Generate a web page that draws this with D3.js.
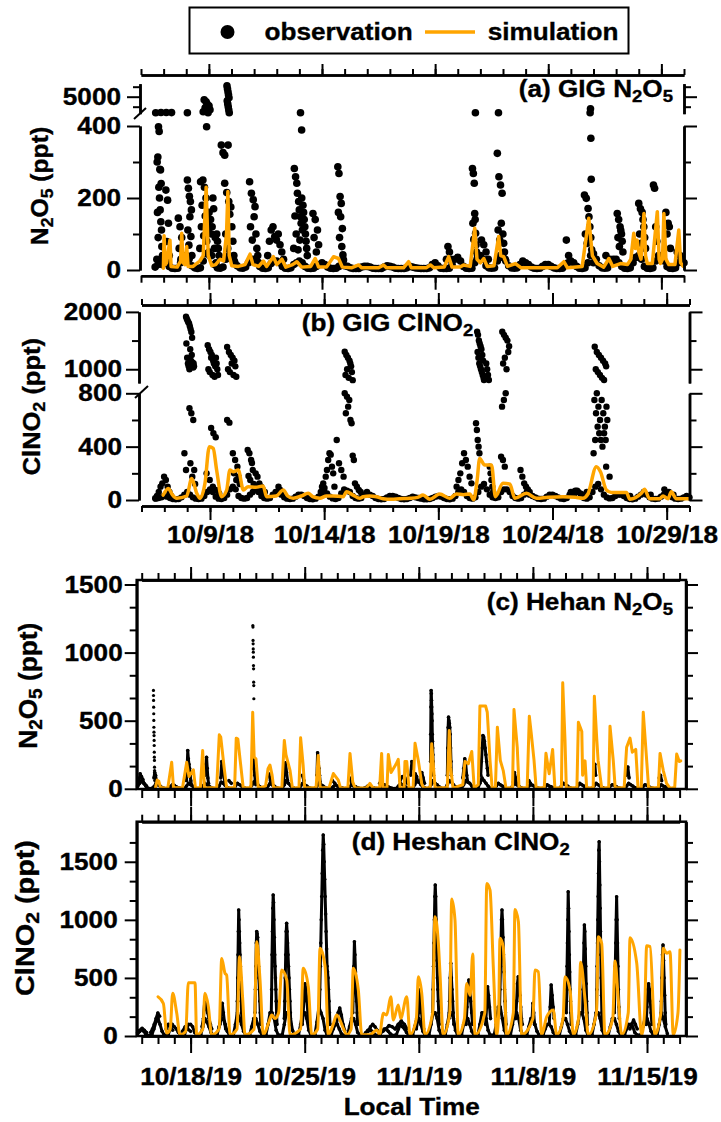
<!DOCTYPE html>
<html>
<head>
<meta charset="utf-8">
<script src="https://cdn.jsdelivr.net/npm/d3@7/dist/d3.min.js"></script>
<style>
  body { margin: 0; background: #fff; }
  svg text { font-family: "Liberation Sans", Arial, sans-serif; font-weight: bold; white-space: pre;
             stroke: #000; stroke-width: 0.35px; }
</style>
</head>
<body>
<svg id="chart" width="721" height="1122"></svg>
<script>
// ---------- data ----------
// GIG 2018 (a, b): times are day-of-October 2018 (6.5 = 10/6 12:00)
// Heshan 2019 (c, d): times are days counted from 30 Sep 2019 (32 = 11/1)

const gigTickLabels = ['10/9/18', '10/14/18', '10/19/18', '10/24/18', '10/29/18'];
const heshanTickLabels = ['10/18/19', '10/25/19', '11/1/19', '11/8/19', '11/15/19'];

// observation bursts: [start, end, values in ppt (in time order)]
const gigN2O5Obs = [
  [6.7, 6.95, [30, 300, 160, 314, 90, 398, 230, 385, 200, 280, 167, 278, 134, 240, 111, 65, 15, 40]],
  [6.65, 7.35, [3400, 3420, 3420, 3410]],
  [7.1, 7.25, [222, 79, 194, 130, 40]],
  [7.65, 7.8, [144, 60, 120, 30, 90]],
  [8.05, 8.25, [250, 111, 227, 69, 205, 148, 190, 93, 167, 40]],
  [8.05, 8.05, [3400]],
  [8.6, 9.45, [60, 245, 120, 180, 250, 95, 230, 150, 200, 80, 130, 110, 160, 40, 140, 100, 120, 200, 170, 60, 90, 20, 100, 80, 60, 40]],
  [8.75, 9.05, [3500, 4700, 3900, 4500, 4300, 3400, 4100, 3700]],
  [8.9, 8.9, [398]],
  [9.55, 9.7, [347, 326, 319]],
  [9.7, 10.15, [241, 100, 215, 60, 190, 155, 175, 120, 80, 40, 20]],
  [9.8, 9.9, [6100, 4600, 5800, 4300, 5500, 4000, 5200, 3700, 4900, 3400]],
  [9.85, 9.85, [347]],
  [10.8, 11.2, [245, 120, 213, 83, 195, 148, 176, 100, 60, 40, 20]],
  [11.6, 12.3, [40, 80, 111, 120, 93, 83, 100, 70, 50, 30]],
  [12.75, 13.35, [60, 282, 150, 259, 100, 241, 213, 56, 190, 167, 83, 148, 130, 200, 111, 180, 160, 140, 120, 100, 80, 60, 40]],
  [13.05, 13.1, [3400, 389]],
  [13.6, 13.85, [157, 90, 140, 50, 111, 70]],
  [14.7, 14.95, [287, 160, 268, 90, 204, 148, 185, 65, 115, 42, 28]],
  [19.5, 19.7, [30, 65, 50, 30]],
  [20.65, 20.85, [282, 130, 268, 85, 241, 157, 140, 102, 70, 50, 30]],
  [20.78, 20.78, [3400]],
  [21.05, 21.35, [83, 70, 50, 30]],
  [21.75, 22.1, [324, 111, 259, 83, 236, 130, 213, 100, 74, 50, 30]],
  [21.8, 21.8, [3400]],
  [24.8, 24.9, [83, 40]],
  [25.6, 26.0, [208, 100, 199, 74, 171, 148, 120, 90, 56, 40, 20]],
  [25.85, 25.9, [3400, 3800, 366, 252]],
  [26.55, 26.9, [40, 30, 20]],
  [27.05, 27.3, [157, 90, 140, 65, 120, 110, 100, 80, 50]],
  [28.0, 28.3, [185, 100, 170, 74, 160, 140, 120, 90, 60]],
  [28.65, 28.8, [236, 227, 120, 80]],
  [29.2, 29.4, [160, 100, 130, 120, 60]],
  [29.7, 29.95, [50, 40, 20]]
];
// 3-hourly background observations from 10/6 15:00
const gigBaseStart = 6.625;
const gigN2O5Base = [
  8, 15, 25,
  30, 25, 10, 5, 4, 5, 20, 35,  40, 30, 12, 6, 4, 6, 25, 45,  50, 40, 15, 6, 5, 8, 30, 40,
  35, 25, 12, 6, 5, 8, 20, 30,  30, 25, 10, 5, 4, 6, 18, 25,  25, 20, 10, 5, 4, 6, 15, 20,
  25, 20, 10, 5, 4, 5, 10, 15,  20, 15, 8, 5, 4, 5, 10, 15,   12, 10, 6, 4, 4, 4, 8, 10,
  10, 8, 5, 4, 4, 4, 8, 12,     10, 8, 5, 4, 4, 4, 6, 10,     8, 6, 5, 4, 4, 4, 6, 15,
  20, 12, 5, 4, 4, 5, 15, 30,   35, 25, 10, 5, 4, 5, 20, 40,  40, 30, 12, 6, 5, 6, 25, 40,
  35, 25, 12, 6, 5, 6, 15, 25,  20, 15, 8, 5, 4, 5, 10, 15,   15, 10, 6, 4, 4, 5, 12, 20,
  25, 20, 10, 5, 4, 6, 20, 40,  45, 30, 12, 6, 5, 6, 20, 30,  30, 20, 10, 5, 4, 6, 20, 35,
  40, 30, 10, 5, 4, 6, 25, 40,  40, 25, 10, 5, 4, 6, 20, 30,
  20
];
const gigN2O5Sim = [
  [6.99, 5], [7.02, 95], [7.07, 15], [7.13, 20], [7.28, 83], [7.33, 10], [7.6, 8], [7.75, 25], [7.80, 102],
  [7.86, 20], [7.95, 15], [8.02, 65], [8.08, 10], [8.3, 10], [8.6, 25], [8.75, 40], [8.88, 230], [8.97, 40],
  [9.13, 12], [9.3, 15], [9.5, 30], [9.65, 25], [9.78, 100], [9.84, 218], [9.9, 40], [10.01, 12], [10.3, 10],
  [10.6, 15], [10.82, 44], [10.95, 15], [11.2, 10], [11.41, 25], [11.55, 10], [11.85, 37], [12.0, 15],
  [12.23, 30], [12.4, 8], [12.7, 15], [12.89, 23], [13.1, 8], [13.5, 10], [13.7, 32], [13.85, 8], [14.2, 8],
  [14.51, 37], [14.73, 32], [14.9, 8], [15.3, 6], [15.62, 14], [15.75, 6], [16.5, 6], [16.72, 14], [16.85, 6],
  [17.6, 6], [17.83, 23], [17.95, 6], [18.6, 6], [18.79, 14], [18.95, 6], [19.4, 8], [19.6, 37], [19.75, 8],
  [20.1, 8], [20.26, 14], [20.55, 10], [20.75, 116], [20.85, 30], [21.0, 20], [21.15, 32], [21.3, 10],
  [21.6, 12], [21.81, 93], [21.9, 40], [22.03, 37], [22.2, 10], [22.55, 18], [22.8, 6], [24.4, 6], [24.69, 23],
  [24.85, 6], [25.5, 10], [25.79, 144], [25.95, 40], [26.16, 18], [26.45, 8], [26.68, 32], [26.85, 10],
  [27.19, 18], [27.5, 15], [27.65, 30], [27.78, 102], [27.85, 60], [27.93, 83], [28.0, 50], [28.1, 30],
  [28.23, 157], [28.3, 40], [28.38, 18], [28.6, 18], [28.82, 162], [28.9, 30], [28.96, 18], [29.05, 30],
  [29.11, 157], [29.2, 30], [29.33, 15], [29.6, 15], [29.77, 111], [29.85, 20], [29.97, 10]
];

const gigClNO2Obs = [
  [6.6, 7.3, [13, 30, 60, 100, 125, 175, 150, 100, 60, 30]],
  [7.88, 7.95, [350, 225]],
  [7.95, 8.3, [1916, 1450, 1880, 1200, 1850, 1100, 1820, 1050, 1800, 1000, 1750, 1350, 1700, 1150, 1650, 1250, 1550, 1120, 1080, 1030, 1100, 1050]],
  [8.1, 8.35, [688, 275, 650, 175, 600, 225, 120]],
  [8.9, 9.35, [1420, 1000, 1350, 950, 1300, 1200, 1250, 900, 1150, 1100, 870, 1050, 1200, 1100, 1000, 900]],
  [9.05, 9.25, [540, 500, 470]],
  [8.85, 9.4, [200, 150, 100, 75, 50]],
  [9.75, 10.15, [1390, 1000, 1300, 950, 1250, 1100, 1200, 900, 1150, 1050, 870]],
  [9.75, 9.85, [600, 580]],
  [10.0, 10.3, [350, 200, 300, 150, 250, 175, 120]],
  [10.65, 10.95, [375, 180, 350, 150, 300, 277, 225, 120, 100]],
  [11.0, 11.4, [200, 175, 125, 100, 75, 60]],
  [12.0, 12.15, [100, 75, 50]],
  [13.85, 14.45, [60, 100, 125, 90, 175, 225, 300, 350, 340, 250, 200, 100]],
  [14.55, 14.85, [450, 275, 225, 175]],
  [14.9, 15.25, [1305, 900, 1250, 1000, 1200, 850, 1150, 1100, 1050, 950, 810]],
  [14.9, 15.3, [800, 650, 775, 700, 750, 600, 575, 333, 300]],
  [15.35, 15.6, [125, 100, 75, 60]],
  [19.8, 20.45, [100, 150, 200, 275, 350, 300, 250, 175, 125]],
  [20.65, 20.8, [575, 525, 450, 400, 350]],
  [20.7, 21.0, [1654, 1300, 1600, 1200, 1500, 1100, 1450, 1050, 1400, 1000, 1350, 950, 1250, 900, 1150, 850, 812]],
  [21.1, 21.4, [1100, 1000, 900, 812, 250, 200, 150, 100, 60]],
  [21.75, 21.95, [325, 700, 300, 750, 250, 800]],
  [21.8, 22.1, [1654, 1100, 1600, 1200, 1550, 1000, 1500, 1300, 1400]],
  [22.6, 23.0, [225, 175, 125, 100, 80, 60]],
  [24.8, 25.5, [60, 40, 70, 50, 40, 60]],
  [25.85, 26.35, [1392, 1000, 1300, 950, 1250, 900, 1200, 850, 1150, 812, 1100, 1050]],
  [25.8, 26.4, [350, 750, 450, 650, 800, 550, 700, 500, 600, 450, 750, 400, 650, 500, 550, 450, 700, 600]],
  [26.35, 26.5, [250, 175]],
  [27.2, 27.4, [40, 30]],
  [28.0, 28.3, [60, 40]],
  [28.9, 29.3, [80, 60, 40]]
];
const gigClNO2Base = [
  10, 15, 20,
  30, 25, 15, 8, 5, 8, 20, 40,      60, 40, 20, 10, 8, 10, 30, 60,    80, 60, 25, 10, 8, 15, 40, 80,
  100, 80, 30, 15, 10, 15, 40, 60,  80, 60, 30, 15, 10, 15, 40, 60,   50, 40, 20, 10, 8, 10, 25, 40,
  40, 30, 15, 8, 6, 10, 25, 40,     60, 50, 25, 12, 8, 15, 50, 80,    70, 60, 30, 15, 10, 15, 40, 60,
  40, 30, 15, 8, 6, 8, 20, 30,      30, 25, 15, 8, 6, 8, 15, 25,      20, 15, 10, 6, 5, 8, 15, 25,
  30, 25, 15, 8, 6, 10, 30, 60,     80, 60, 30, 15, 10, 20, 60, 100,  120, 80, 40, 20, 15, 20, 60, 80,
  80, 60, 30, 15, 10, 15, 40, 60,   40, 30, 20, 10, 8, 10, 25, 40,    40, 30, 20, 10, 8, 15, 40, 60,
  70, 60, 30, 15, 10, 20, 60, 100,  120, 80, 40, 20, 12, 15, 30, 40,  40, 30, 15, 8, 6, 10, 25, 40,
  50, 40, 20, 10, 8, 10, 25, 40,    50, 40, 20, 10, 8, 10, 20, 30,
  20
];
const gigClNO2Sim = [
  [6.95, 37], [7.17, 87], [7.35, 40], [7.54, 13], [7.98, 30], [8.20, 162], [8.42, 50], [8.56, 13], [8.78, 125],
  [8.97, 400], [9.14, 387], [9.29, 225], [9.51, 25], [9.73, 75], [9.87, 225], [10.02, 212], [10.24, 225],
  [10.46, 75], [10.67, 100], [11.0, 95], [11.33, 105], [11.48, 25], [11.9, 30], [12.21, 75], [12.4, 30],
  [12.64, 13], [13.0, 30], [13.3, 50], [13.5, 25], [13.81, 13], [14.1, 30], [14.39, 30], [14.83, 25],
  [14.98, 62], [15.27, 37], [15.56, 13], [15.71, 25], [16.0, 30], [16.29, 25], [16.58, 10], [16.95, 6],
  [17.31, 10], [17.75, 13], [18.1, 20], [18.33, 37], [18.63, 6], [19.06, 45], [19.5, 13], [19.79, 45],
  [20.1, 40], [20.38, 45], [20.55, 2], [20.7, 150], [20.81, 312], [21.03, 262], [21.33, 262], [21.5, 25],
  [21.83, 125], [22.13, 120], [22.35, 13], [22.86, 50], [23.3, 13], [23.8, 20], [24.46, 25], [25.0, 20],
  [25.33, 13], [25.55, 45], [25.92, 250], [26.1, 212], [26.36, 75], [26.58, 57], [27.24, 57], [27.38, 6],
  [27.89, 50], [28.03, 80], [28.25, 10], [28.69, 10], [28.84, 30], [29.06, 10], [29.2, 62], [29.42, 10],
  [29.97, 10]
];

// Heshan N2O5: dense bursts, isolated sparse records, 3-hourly background from 10/14 18:00
const hehanN2O5Obs = [
  [14.75, 15.3, [20, 60, 110, 90, 70, 40, 30, 20]],
  [15.75, 15.95, [80, 120, 100, 60, 30]],
  [17.75, 18.05, [60, 150, 281, 220, 180, 150, 100, 60, 30]],
  [18.9, 19.1, [100, 180, 232, 150, 80, 40]],
  [19.85, 20.1, [80, 200, 160, 100, 50]],
  [20.35, 20.5, [60, 40]],
  [21.8, 22.0, [150, 250, 200, 150, 100, 60, 30]],
  [22.8, 23.0, [110, 60, 30]],
  [23.7, 23.95, [50, 150, 190, 120, 60]],
  [24.85, 24.95, [100, 60]],
  [25.75, 25.95, [100, 265, 200, 150, 100, 50]],
  [26.7, 26.85, [60, 40]],
  [27.75, 27.9, [80, 40]],
  [29.6, 29.8, [40, 60, 30]],
  [30.85, 31.3, [60, 90, 80, 40]],
  [31.5, 31.65, [100, 200, 150]],
  [31.7, 31.95, [60, 110, 90, 50]],
  [32.1, 32.35, [60, 120, 80, 40]],
  [32.72, 32.9, [200, 400, 600, 722, 700, 650, 600, 550, 500, 400, 350, 300, 250, 200, 150, 100]],
  [33.75, 34.0, [100, 300, 450, 526, 500, 480, 450, 400, 300, 200, 100]],
  [34.7, 35.0, [80, 150, 220, 180, 100, 50]],
  [35.8, 36.25, [100, 200, 300, 391, 380, 350, 300, 250, 200, 150, 100]],
  [37.8, 38.0, [50, 120, 80, 40]],
  [38.75, 38.85, [60, 40]],
  [42.75, 42.85, [120, 180, 100]],
  [44.75, 44.9, [100, 160, 80]],
  [46.75, 46.9, [80, 100, 60]]
];
const hehanN2O5Sparse = [
  [15.72, 15.8, [722, 685, 649, 599, 551, 502, 452, 416, 391, 355, 318, 269, 232, 208, 159, 134, 98, 61]],
  [21.82, 21.88, [1199, 1187, 1089, 1064, 1027, 1003, 966, 905, 881, 783, 758, 661]]
];
const heshanBaseStart = 14.75;
const hehanN2O5Base = [
  20, 40,
  60, 40, 20, 5, 2, 3, 15, 40,  30, 20, 10, 3, 2, 3, 15, 30,  25, 15, 8, 3, 2, 3, 20, 40,
  30, 20, 10, 3, 2, 3, 20, 40,  30, 20, 10, 3, 2, 3, 20, 50,  40, 25, 10, 3, 2, 3, 20, 40,
  30, 20, 10, 3, 2, 3, 25, 50,  40, 30, 15, 5, 2, 3, 20, 40,  30, 20, 10, 3, 2, 3, 30, 60,
  40, 25, 10, 3, 2, 3, 20, 40,  30, 20, 10, 3, 2, 3, 20, 40,  30, 20, 10, 3, 2, 3, 15, 30,
  20, 15, 8, 3, 2, 3, 15, 30,   20, 15, 8, 3, 2, 3, 10, 20,   15, 10, 5, 3, 2, 3, 15, 30,
  25, 15, 8, 3, 2, 3, 20, 40,   30, 20, 10, 3, 2, 3, 30, 60,  50, 30, 15, 5, 2, 3, 30, 60,
  40, 30, 15, 5, 2, 3, 30, 60,  50, 30, 15, 5, 2, 3, 30, 60,  50, 40, 20, 5, 2, 5, 40, 80,
  60, 40, 20, 5, 2, 3, 20, 40,  30, 20, 10, 3, 2, 3, 20, 40,  30, 20, 10, 3, 2, 3, 20, 30,
  25, 15, 8, 3, 2, 3, 15, 30,   20, 15, 8, 3, 2, 3, 20, 40,   30, 20, 10, 3, 2, 3, 20, 40,
  30, 20, 10, 3, 2, 3, 20, 40,  30, 20, 10, 3, 2, 3, 20, 30,  25, 15, 8, 3, 2, 3, 20, 40,
  30, 20, 10, 3, 2, 3, 15, 30,  25, 15, 8, 3, 2, 3, 15, 30,
  20, 15, 8
];
const hehanN2O5Sim = [
  [15.85, 10], [15.95, 64], [16.05, 55], [16.15, 10], [16.6, 5], [16.84, 195], [16.95, 10], [17.5, 5],
  [17.76, 195], [17.9, 90], [18.17, 140], [18.3, 5], [18.6, 10], [18.74, 281], [18.85, 5], [19.6, 10],
  [19.76, 396], [19.85, 380], [20.05, 164], [20.21, 5], [20.7, 10], [20.8, 372], [20.9, 365], [21.05, 200],
  [21.23, 5], [21.7, 10], [21.81, 562], [21.9, 232], [22.01, 220], [22.15, 5], [22.6, 20], [22.75, 147],
  [22.87, 175], [23.0, 100], [23.1, 5], [23.6, 10], [23.75, 355], [23.85, 250], [24.1, 135], [24.25, 5],
  [24.65, 10], [24.75, 374], [24.9, 180], [25.0, 5], [25.7, 10], [25.83, 245], [25.95, 5], [26.5, 10],
  [26.76, 112], [27.06, 64], [27.2, 5], [27.65, 10], [27.78, 260], [27.95, 49], [28.1, 5], [28.8, 8],
  [29.0, 40], [29.2, 5], [29.6, 10], [29.72, 260], [29.8, 5], [30.05, 10], [30.13, 252], [30.3, 120],
  [30.6, 180], [30.74, 216], [30.85, 5], [31.1, 10], [31.15, 200], [31.26, 200], [31.4, 5], [31.65, 10],
  [31.77, 335], [31.97, 208], [32.18, 37], [32.3, 5], [32.7, 10], [32.79, 330], [33.0, 5], [33.75, 10],
  [33.87, 428], [33.95, 159], [34.1, 5], [34.7, 30], [34.83, 200], [35.04, 184], [35.25, 274], [35.4, 5],
  [35.65, 30], [35.75, 607], [36.1, 607], [36.2, 562], [36.28, 400], [36.37, 208], [36.5, 5], [36.7, 10],
  [36.82, 452], [37.0, 208], [37.18, 134], [37.35, 5], [37.75, 10], [37.84, 582], [38.04, 305], [38.15, 5],
  [38.65, 10], [38.78, 533], [38.9, 404], [39.07, 208], [39.2, 5], [39.7, 10], [39.8, 261], [40.0, 110],
  [40.21, 289], [40.35, 5], [40.75, 10], [40.83, 778], [40.97, 355], [41.05, 5], [41.7, 10], [41.79, 489],
  [42.0, 420], [42.05, 100], [42.2, 205], [42.3, 5], [42.7, 10], [42.77, 680], [42.91, 379], [43.0, 208],
  [43.22, 5], [43.65, 10], [43.73, 460], [43.93, 208], [44.05, 5], [44.6, 10], [44.75, 305], [44.96, 372],
  [45.1, 269], [45.31, 289], [45.45, 5], [45.65, 10], [45.77, 562], [45.98, 208], [46.1, 5], [46.7, 10],
  [46.8, 260], [47.0, 134], [47.2, 40], [47.41, 5], [47.7, 10], [47.82, 255], [47.98, 200], [48.07, 205]
];

const heshanClNO2Obs = [
  [14.75, 15.3, [20, 40, 66, 50, 30]],
  [15.55, 16.1, [30, 60, 100, 150, 198, 170]],
  [16.5, 16.9, [60, 100, 80, 50]],
  [17.5, 18.0, [40, 80, 60, 40]],
  [18.7, 19.3, [80, 150, 310, 250, 200, 150, 100, 60]],
  [19.8, 20.15, [100, 200, 281, 200, 120, 60]],
  [20.85, 21.15, [150, 300, 500, 700, 900, 1084, 1000, 900, 800, 700, 600, 500, 400, 300, 200, 100]],
  [21.95, 22.3, [200, 400, 600, 800, 900, 880, 850, 700, 600, 500, 400, 300, 200, 100]],
  [22.95, 23.3, [200, 400, 700, 900, 1100, 1213, 1150, 1000, 850, 700, 600, 500, 400, 300, 200, 100]],
  [23.75, 24.15, [150, 300, 500, 700, 900, 970, 900, 800, 700, 600, 500, 400, 300, 200, 100]],
  [24.85, 25.25, [100, 200, 350, 450, 400, 300, 200, 100]],
  [25.9, 26.55, [200, 400, 600, 800, 1000, 1200, 1400, 1600, 1730, 1650, 1500, 1350, 1200, 1050, 900, 750, 600, 553, 500, 400, 300, 200, 100]],
  [26.95, 27.45, [100, 200, 240, 180, 100, 50]],
  [27.95, 28.25, [200, 400, 600, 812, 700, 550, 400, 300, 200, 100]],
  [28.9, 29.45, [40, 80, 100, 80, 50]],
  [29.8, 31.3, [40, 60, 90, 80, 60, 100, 130, 100, 60]],
  [31.85, 32.3, [60, 120, 200, 396, 300, 200, 100, 60]],
  [32.85, 33.25, [200, 400, 600, 800, 1000, 1200, 1300, 1200, 1000, 800, 650, 500, 400, 300, 200, 100]],
  [33.85, 34.15, [150, 300, 500, 626, 500, 400, 300, 200, 100]],
  [34.9, 35.3, [100, 250, 400, 482, 400, 300, 200, 100]],
  [36.1, 36.4, [100, 250, 424, 350, 250, 150]],
  [36.95, 37.35, [200, 400, 600, 800, 1000, 1084, 1000, 850, 700, 550, 400, 300, 200, 100]],
  [37.95, 38.35, [150, 300, 450, 510, 450, 350, 250, 150, 100]],
  [38.95, 39.1, [150, 281, 200, 100]],
  [40.0, 40.3, [100, 250, 439, 350, 250, 150]],
  [41.05, 41.35, [200, 400, 600, 800, 1000, 1242, 1100, 900, 700, 550, 400, 300, 200, 100]],
  [42.05, 42.35, [200, 400, 600, 800, 955, 900, 750, 600, 450, 300, 200, 100]],
  [42.9, 43.25, [200, 400, 600, 800, 1000, 1200, 1400, 1600, 1672, 1500, 1300, 1100, 900, 700, 500, 350, 200, 100]],
  [44.0, 44.3, [200, 400, 600, 800, 1000, 1198, 1000, 800, 600, 400, 250, 150]],
  [44.95, 45.4, [60, 100, 138, 100, 60]],
  [45.95, 46.3, [100, 250, 400, 450, 400, 300, 200, 100]],
  [46.85, 47.15, [150, 300, 500, 700, 783, 650, 500, 350, 200, 100]]
];
const heshanClNO2Base = [
  30, 50,
  60, 40, 15, 5, 5, 10, 60, 120,     150, 100, 40, 10, 5, 10, 60, 100,  80, 60, 30, 10, 5, 10, 60, 100,
  100, 80, 30, 10, 5, 10, 80, 150,   120, 80, 30, 10, 5, 10, 80, 150,   150, 100, 40, 10, 5, 10, 100, 200,
  150, 100, 40, 10, 5, 10, 80, 150,  150, 100, 40, 10, 5, 10, 100, 200, 200, 150, 50, 10, 5, 10, 100, 200,
  200, 150, 50, 10, 5, 10, 100, 200, 200, 150, 50, 10, 5, 10, 120, 250, 200, 150, 50, 10, 5, 10, 60, 100,
  100, 60, 20, 5, 5, 10, 80, 150,    150, 100, 30, 10, 5, 10, 30, 50,   60, 40, 20, 5, 5, 10, 40, 60,
  60, 40, 20, 5, 5, 10, 60, 100,     80, 60, 30, 10, 5, 10, 80, 150,    150, 100, 40, 10, 5, 10, 100, 200,
  200, 150, 50, 10, 5, 10, 100, 200, 200, 150, 50, 10, 5, 10, 100, 150, 150, 100, 40, 10, 5, 10, 100, 200,
  200, 150, 50, 10, 5, 10, 100, 250, 250, 150, 50, 10, 5, 10, 100, 200, 200, 150, 50, 10, 5, 10, 80, 150,
  150, 100, 40, 10, 5, 10, 60, 100,  100, 80, 30, 10, 5, 10, 80, 150,   150, 100, 40, 10, 5, 10, 100, 200,
  200, 150, 50, 10, 5, 10, 100, 200, 200, 150, 50, 10, 5, 10, 80, 150,  150, 100, 40, 10, 5, 10, 60, 100,
  100, 80, 30, 10, 5, 10, 80, 150,   150, 100, 40, 10, 5, 10, 100, 200,
  150, 80, 20
];
const heshanClNO2Sim = [
  [16.0, 338], [16.33, 280], [16.53, 25], [16.75, 60], [16.9, 367], [17.15, 195], [17.35, 10], [17.7, 40],
  [17.86, 459], [18.27, 459], [18.37, 10], [18.75, 60], [18.88, 367], [19.09, 252], [19.29, 10], [19.75, 60],
  [19.91, 668], [20.11, 540], [20.21, 525], [20.42, 10], [20.85, 60], [21.0, 683], [21.2, 310], [21.34, 10],
  [21.9, 60], [22.06, 812], [22.26, 482], [22.46, 10], [22.8, 120], [22.98, 180], [23.18, 150], [23.4, 200],
  [23.59, 568], [23.9, 482], [24.1, 10], [24.75, 60], [24.91, 583], [25.22, 424], [25.43, 10], [25.8, 60],
  [25.94, 755], [26.25, 600], [26.45, 10], [26.7, 80], [26.96, 180], [27.37, 66], [27.58, 10], [27.85, 60],
  [27.98, 583], [28.29, 396], [28.5, 10], [29.0, 10], [29.42, 52], [29.6, 10], [29.75, 150], [29.82, 195],
  [30.03, 181], [30.28, 338], [30.44, 138], [30.74, 267], [30.89, 152], [31.26, 338], [31.46, 10],
  [31.85, 150], [31.97, 510], [32.18, 367], [32.38, 10], [32.85, 200], [32.99, 1027], [33.2, 797],
  [33.3, 539], [33.5, 10], [33.9, 200], [34.02, 1179], [34.22, 998], [34.42, 10], [34.8, 150], [34.94, 453],
  [35.15, 350], [35.31, 706], [35.45, 10], [36.05, 200], [36.17, 1314], [36.37, 1256], [36.57, 597],
  [36.78, 10], [36.9, 200], [36.98, 841], [37.18, 769], [37.39, 10], [37.8, 200], [37.9, 1090], [38.11, 984],
  [38.31, 10], [39.0, 150], [39.13, 568], [39.33, 553], [39.54, 10], [39.85, 166], [40.25, 224], [40.46, 10],
  [40.85, 150], [40.97, 510], [41.28, 396], [41.48, 10], [41.8, 150], [41.93, 634], [42.2, 310], [42.4, 10],
  [42.9, 200], [43.01, 855], [43.22, 798], [43.42, 10], [43.9, 150], [44.04, 645], [44.24, 310], [44.45, 10],
  [44.85, 200], [44.96, 846], [45.37, 626], [45.67, 10], [45.85, 200], [45.98, 777], [46.19, 769],
  [46.49, 10], [46.85, 200], [47.0, 755], [47.21, 712], [47.41, 726], [47.61, 10], [47.9, 200], [48.02, 740]
];

// y tick values
const ticksA = { loMinor: [100, 300], loMajor: [0, 200, 400], hiMinor: [4000, 6000], hiMajor: [5000] };
const ticksB = { loMinor: [200, 600], loMajor: [0, 400, 800], hiMinor: [1500], hiMajor: [1000, 2000] };
const ticksCD = { minor: [166.67, 333.33, 666.67, 833.33, 1166.67, 1333.33, 1666.67], major: [0, 500, 1000, 1500] };

// ---------- helpers ----------
const ORANGE = '#ffa500';
const SX = 1.09; // lettering of the original is slightly wide
const svg = d3.select('#chart');
const gigT = d => new Date(Date.UTC(2018, 9, 0) + d * 864e5);
const hsT = d => new Date(Date.UTC(2019, 9, 0) + d * 864e5);
const parseTick = d3.utcParse('%m/%d/%y');
const fmtDate = d3.utcFormat('%-m/%-d/%y');

function expand(segs, toDate) {
  return segs.map(([t0, t1, vals]) => vals.map((v, i) => ({
    t: toDate(vals.length > 1 ? t0 + (t1 - t0) * i / (vals.length - 1) : t0), v
  })));
}
function expandBase(start, vals, toDate) {
  return vals.map((v, i) => ({ t: toDate(start + i * 0.125), v }));
}

function ax(g, gen, tx, ty, values, len, fmt, pad) {
  const a = g.append('g')
    .attr('transform', `translate(${tx},${ty})`)
    .call(gen.tickValues(values).tickSize(len).tickSizeOuter(0)
      .tickPadding(pad == null ? 3 : pad).tickFormat(fmt || (() => '')));
  a.attr('font-size', null).attr('font-family', null);
  a.select('.domain').attr('stroke-width', 2.5);
  a.selectAll('.tick line').attr('stroke-width', 2);
  a.selectAll('.tick text').style('font-size', '24px').each(function () {
    const t = d3.select(this);
    const x = +t.attr('x') || 0, y = +t.attr('y') || 0;
    t.attr('x', null).attr('y', null).attr('transform', `translate(${x},${y}) scale(${SX},1)`);
  });
  return a;
}
function xAxes(g, x, ty, side, days, majors, minLen, majLen, labelled, pad) {
  const mk = side === 'top' ? d3.axisTop : d3.axisBottom;
  ax(g, mk(x), 0, ty, days, minLen);
  ax(g, mk(x), 0, ty, majors, majLen, labelled ? fmtDate : null, pad);
}
function yAxes(g, y, tx, side, minors, majors, minLen, majLen, labelled, pad) {
  const mk = side === 'left' ? d3.axisLeft : d3.axisRight;
  ax(g, mk(y), tx, 0, minors, minLen);
  ax(g, mk(y), tx, 0, majors, majLen, labelled ? d3.format('d') : null, pad);
}
function label(g, x, y, parts, o = {}) {
  const size = o.size || 24, sx = o.sx || SX;
  const t = g.append('text')
    .attr('transform', `translate(${x},${y})${o.rotate ? ` rotate(${o.rotate})` : ''} scale(${sx},1)`)
    .attr('text-anchor', o.anchor || 'start')
    .style('font-size', size + 'px');
  let low = false;
  parts.forEach(p => {
    const sub = Array.isArray(p);
    const s = t.append('tspan').text(sub ? p[0] : p);
    if (sub) s.style('font-size', Math.round(size * 0.72) + 'px');
    if (sub !== low) s.attr('dy', sub ? 5 : -5);
    low = sub;
  });
}
function dots(g, pts, x, y, r) {
  g.append('g').selectAll('circle').data(pts).join('circle')
    .attr('cx', d => x(d.t)).attr('cy', d => y(d.v)).attr('r', r).attr('fill', '#000');
}
function traces(g, runs, x, y, w) {
  const line = d3.line().x(d => x(d.t)).y(d => y(d.v));
  g.append('g').selectAll('path').data(runs).join('path')
    .attr('d', line).attr('fill', 'none').attr('stroke', '#000')
    .attr('stroke-width', w).attr('stroke-linejoin', 'round');
}
function simLine(g, data, toDate, x, y, w, curve) {
  g.append('path').datum(data)
    .attr('d', d3.line().curve(curve || d3.curveLinear).x(d => x(toDate(d[0]))).y(d => y(d[1])))
    .attr('fill', 'none').attr('stroke', ORANGE).attr('stroke-width', w)
    .attr('stroke-linejoin', 'round').attr('stroke-linecap', 'round');
}
function slash(g, x1, y1, x2, y2) {
  g.append('line').attr('x1', x1).attr('y1', y1).attr('x2', x2).attr('y2', y2)
    .attr('stroke', '#000').attr('stroke-width', 2);
}

const gigDays = d3.utcDay.range(gigT(6), gigT(30.5));
const gigMajors = gigTickLabels.map(parseTick);
const hsDays = d3.utcDay.range(hsT(15), hsT(48.5));
const hsMajors = heshanTickLabels.map(parseTick);

// ---------- legend ----------
const leg = svg.append('g');
leg.append('rect').attr('x', 189.5).attr('y', 7.5).attr('width', 439).attr('height', 46)
  .attr('fill', 'none').attr('stroke', '#000').attr('stroke-width', 2);
leg.append('circle').attr('cx', 227.5).attr('cy', 32).attr('r', 7).attr('fill', '#000');
label(leg, 264.5, 40, ['observation']);
leg.append('line').attr('x1', 425).attr('x2', 475).attr('y1', 32).attr('y2', 32)
  .attr('stroke', ORANGE).attr('stroke-width', 3.5);
label(leg, 487.7, 40, ['simulation']);

// ---------- (a) GIG N2O5 ----------
const gA = svg.append('g');
const xA = d3.scaleUtc().domain([gigT(6), gigT(30)]).range([141, 684]);
const yAlo = d3.scaleLinear().domain([0, 400]).range([270, 126]);
const yAhi = d3.scaleLinear().domain([3300, 6300]).range([113.7, 83.7]);
const yA = v => v > 400 ? yAhi(v) : yAlo(v);
dots(gA, expandBase(gigBaseStart, gigN2O5Base, gigT), xA, yA, 3.8);
dots(gA, expand(gigN2O5Obs, gigT).flat(), xA, yA, 3.8);
simLine(gA, gigN2O5Sim, gigT, xA, yAlo, 3.5);
xAxes(gA, xA, 75, 'top', gigDays, gigMajors, 6, 11);
xAxes(gA, xA, 275.7, 'bottom', gigDays, gigMajors, 7, 14);
yAxes(gA, yAlo, 140, 'left', ticksA.loMinor, ticksA.loMajor, 7, 13, true, 6);
yAxes(gA, yAhi, 140, 'left', ticksA.hiMinor, ticksA.hiMajor, 7, 13, true, 6);
yAxes(gA, yAlo, 684, 'right', ticksA.loMinor, ticksA.loMajor, 7, 13);
yAxes(gA, yAhi, 684, 'right', ticksA.hiMinor, ticksA.hiMajor, 7, 13);
slash(gA, 134, 119, 146, 108);
label(gA, 673, 97.3, ['(a) GIG N', ['2'], 'O', ['5']], { anchor: 'end' });
label(svg, 48, 186, ['N', ['2'], 'O', ['5'], ' (ppt)'], { anchor: 'middle', rotate: -90, sx: 1.03 });

// ---------- (b) GIG ClNO2 ----------
const gB = svg.append('g');
const xB = d3.scaleUtc().domain([gigT(6), gigT(30)]).range([141.5, 689.5]);
const yBlo = d3.scaleLinear().domain([0, 800]).range([500, 393.3]);
const yBhi = d3.scaleLinear().domain([760, 2000]).range([383, 311.9]);
const yB = v => v > 800 ? yBhi(v) : yBlo(v);
dots(gB, expandBase(gigBaseStart, gigClNO2Base, gigT), xB, yB, 3.2);
dots(gB, expand(gigClNO2Obs, gigT).flat(), xB, yB, 3.2);
simLine(gB, gigClNO2Sim, gigT, xB, yBlo, 3.5, d3.curveMonotoneX);
xAxes(gB, xB, 305, 'top', gigDays, gigMajors, 6, 12);
xAxes(gB, xB, 506, 'bottom', gigDays, gigMajors, 6, 14, true, 6);
yAxes(gB, yBlo, 139, 'left', ticksB.loMinor, ticksB.loMajor, 7, 13, true, 4);
yAxes(gB, yBhi, 139, 'left', ticksB.hiMinor, ticksB.hiMajor, 7, 13, true, 4);
yAxes(gB, yBlo, 689.5, 'right', ticksB.loMinor, ticksB.loMajor, 7, 13);
yAxes(gB, yBhi, 689.5, 'right', ticksB.hiMinor, ticksB.hiMajor, 7, 13);
slash(gB, 135, 398, 148, 386);
label(gB, 301.7, 330.7, ['(b) GIG ClNO', ['2']]);
label(svg, 39.5, 406.7, ['ClNO', ['2'], ' (ppt)'], { anchor: 'middle', rotate: -90, sx: 1.06 });

// ---------- (c) Hehan N2O5 ----------
const gC = svg.append('g');
const xC = d3.scaleUtc().domain([hsT(15), hsT(48)]).range([141.7, 679.6]);
const yC = d3.scaleLinear().domain([0, 1530]).range([788.8, 580.4]);
const runsC = expand(hehanN2O5Obs, hsT);
const baseC = expandBase(heshanBaseStart, hehanN2O5Base, hsT);
traces(gC, [baseC, ...runsC], xC, yC, 3);
dots(gC, baseC, xC, yC, 1.8);
dots(gC, runsC.flat(), xC, yC, 1.8);
dots(gC, expand(hehanN2O5Sparse, hsT).flat(), xC, yC, 1.6);
simLine(gC, hehanN2O5Sim, hsT, xC, yC, 3);
gC.append('rect').attr('x', 136.7).attr('y', 580).attr('width', 549.3).attr('height', 209)
  .attr('fill', 'none').attr('stroke', '#000').attr('stroke-width', 2.5);
xAxes(gC, xC, 580, 'top', hsDays, hsMajors, 7, 13);
xAxes(gC, xC, 789, 'bottom', hsDays, hsMajors, 9, 17);
yAxes(gC, yC, 136.7, 'left', ticksCD.minor.filter(v => v < 1500), ticksCD.major, 7, 12, true, 2);
yAxes(gC, yC, 686, 'right', ticksCD.minor.filter(v => v < 1500), ticksCD.major, 7, 12);
label(gC, 673, 610, ['(c) Hehan N', ['2'], 'O', ['5']], { anchor: 'end' });
label(svg, 37, 685.8, ['N', ['2'], 'O', ['5'], ' (ppt)'], { anchor: 'middle', rotate: -90, size: 25, sx: 1.05 });

// ---------- (d) Heshan ClNO2 ----------
const gD = svg.append('g');
const yD = d3.scaleLinear().domain([0, 1845]).range([1036, 821.7]);
const runsD = expand(heshanClNO2Obs, hsT);
const baseD = expandBase(heshanBaseStart, heshanClNO2Base, hsT);
traces(gD, [baseD, ...runsD], xC, yD, 3);
dots(gD, baseD, xC, yD, 1.8);
dots(gD, runsD.flat(), xC, yD, 1.8);
simLine(gD, heshanClNO2Sim, hsT, xC, yD, 3, d3.curveMonotoneX);
gD.append('rect').attr('x', 136.7).attr('y', 821.7).attr('width', 549.3).attr('height', 214.3)
  .attr('fill', 'none').attr('stroke', '#000').attr('stroke-width', 2.5);
xAxes(gD, xC, 821.7, 'top', hsDays, hsMajors, 7, 15);
xAxes(gD, xC, 1036, 'bottom', hsDays, hsMajors, 8, 17, true, 15);
yAxes(gD, yD, 136.7, 'left', ticksCD.minor, ticksCD.major, 7, 12, true, 7);
yAxes(gD, yD, 686, 'right', ticksCD.minor, ticksCD.major, 7, 12);
label(gD, 351.7, 850, ['(d) Heshan ClNO', ['2']]);
label(svg, 33.5, 918, ['ClNO', ['2'], ' (ppt)'], { anchor: 'middle', rotate: -90, size: 26, sx: 1.11 });
label(svg, 411.7, 1115, ['Local Time'], { anchor: 'middle' });
</script>
</body>
</html>
